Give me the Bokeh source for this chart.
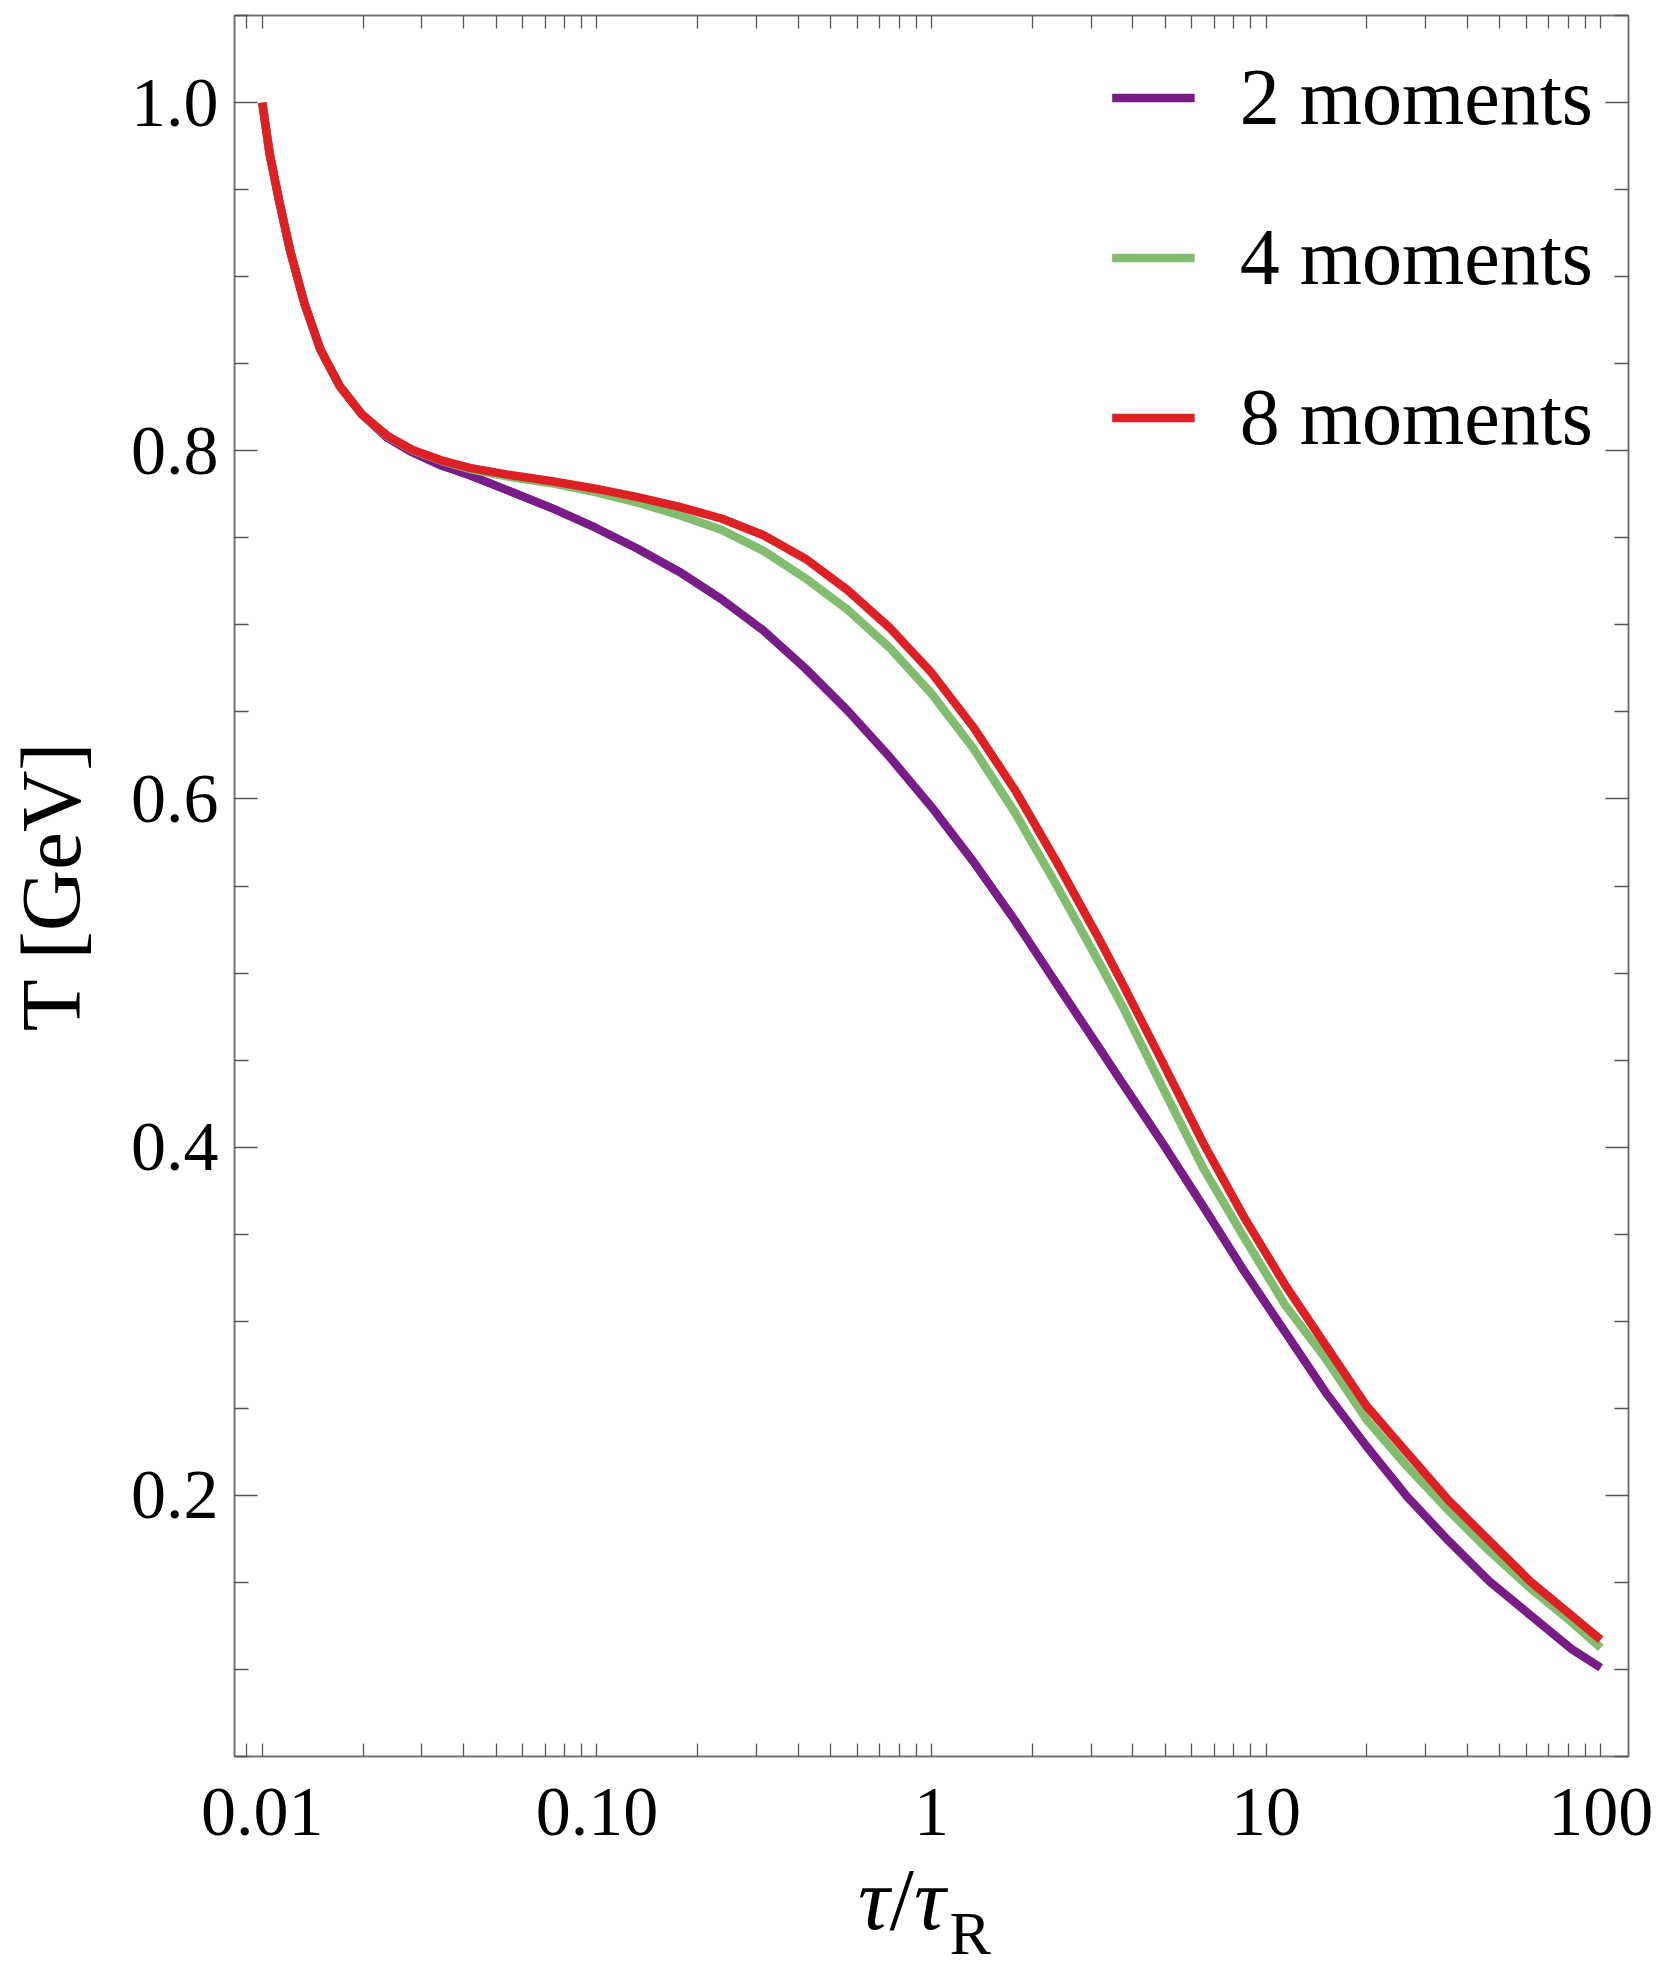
from bokeh.plotting import figure
from bokeh.layouts import column
from bokeh.models import Range1d, FixedTicker, LinearAxis, LogAxis, CustomJSTickFormatter, Div
from bokeh.embed import file_html
from bokeh.resources import INLINE

# ---------------- data ----------------
tau = [0.0100, 0.01052, 0.01122, 0.01211, 0.01337, 0.01493, 0.01702, 0.01982,
       0.02360, 0.02812, 0.03428, 0.04169, 0.05572, 0.07430, 0.09908, 0.1324,
       0.1766, 0.2355, 0.3148, 0.4198, 0.5610, 0.7482, 1.000, 1.334, 1.778,
       2.371, 3.170, 3.698, 4.898, 6.486, 8.590, 11.38, 15.07, 19.95, 26.42,
       35.08, 46.45, 61.52, 81.47, 100.0]

T_2_moments = [1.000, 0.9705, 0.9439, 0.915, 0.8845, 0.858, 0.8373, 0.821,
               0.8075, 0.7990, 0.7915, 0.7859, 0.7763, 0.7666, 0.7558, 0.7437,
               0.7304, 0.7148, 0.6967, 0.6750, 0.6508, 0.6243, 0.5954, 0.5640,
               0.530, 0.4935, 0.457, 0.4375, 0.4024, 0.366, 0.3289, 0.294,
               0.2591, 0.2282, 0.1991, 0.1739, 0.1507, 0.1313, 0.112, 0.101]

T_4_moments = [1.000, 0.9705, 0.9439, 0.915, 0.8845, 0.858, 0.8373, 0.821,
               0.8085, 0.8003, 0.7942, 0.7895, 0.7847, 0.7811, 0.7763, 0.7702,
               0.763, 0.7546, 0.7425, 0.7268, 0.7087, 0.687, 0.6605, 0.629,
               0.592, 0.550, 0.506, 0.482, 0.4345, 0.388, 0.3482, 0.3095,
               0.2785, 0.2436, 0.2165, 0.1914, 0.1681, 0.1468, 0.1275, 0.1125]

T_8_moments = [1.000, 0.9705, 0.9439, 0.915, 0.8845, 0.858, 0.8373, 0.821,
               0.8087, 0.8005, 0.7945, 0.7902, 0.7859, 0.7823, 0.7782, 0.7734,
               0.7678, 0.7611, 0.7515, 0.7380, 0.7200, 0.6985, 0.6725, 0.6412,
               0.605, 0.5635, 0.5195, 0.495, 0.449, 0.4024, 0.3598, 0.3211,
               0.2862, 0.2514, 0.2243, 0.1972, 0.1739, 0.1507, 0.1313, 0.117]

series_names = ["2 moments", "4 moments", "8 moments"]
series_colors = ["#781C87", "#82BC6E", "#DC2024"]

x_tick_values = [0.01, 0.1, 1, 10, 100]
x_tick_labels = ["0.01", "0.10", "1", "10", "100"]
y_tick_values = [0.2, 0.4, 0.6, 0.8, 1.0]
y_tick_labels = ["0.2", "0.4", "0.6", "0.8", "1.0"]

x_label_tau = "\u03c4"
x_label_sub = "R"
y_label = "T [GeV]"

# ---------------- styling ----------------
FONT = "Liberation Serif"
FRAME_COL = "#6e6e6e"
TICK_COL = "#555555"

x_minor = [m * 10.0 ** e for e in range(-3, 3) for m in range(2, 10)]
y_minor = [round(0.05 * k, 2) for k in range(1, 22) if k % 4 != 0]

p = figure(x_axis_type="log",
           x_range=Range1d(10 ** -2.083, 10 ** 2.083),
           y_range=Range1d(0.05, 1.05),
           frame_width=1394, frame_height=1741,
           min_border_left=234, min_border_right=33,
           min_border_top=15, min_border_bottom=110,
           output_backend="svg", toolbar_location=None,
           background_fill_color="white", border_fill_color="white",
           margin=(0, 0, 0, 0))

p.xgrid.visible = False
p.ygrid.visible = False
p.outline_line_color = FRAME_COL
p.outline_line_width = 1.5

ys = [T_2_moments, T_4_moments, T_8_moments]
for name, col, yv in zip(series_names, series_colors, ys):
    p.line(tau, yv, line_color=col, line_width=8.5, legend_label=name,
           line_join="round", line_cap="butt")

fmt_code = """
for (let i = 0; i < vals.length; i++) {
  if (Math.abs(tick - vals[i]) <= 1e-6 * Math.abs(vals[i])) return labs[i];
}
return "";
"""
x_fmt = CustomJSTickFormatter(args=dict(vals=x_tick_values, labs=x_tick_labels), code=fmt_code)
y_fmt = CustomJSTickFormatter(args=dict(vals=y_tick_values, labs=y_tick_labels), code=fmt_code)

def style_axis(ax, maj_in, min_in):
    ax.axis_line_color = FRAME_COL
    ax.axis_line_width = 1.5
    ax.major_tick_line_color = TICK_COL
    ax.minor_tick_line_color = TICK_COL
    ax.major_tick_line_width = 1.3
    ax.minor_tick_line_width = 1.3
    ax.major_tick_in = maj_in
    ax.major_tick_out = 0
    ax.minor_tick_in = min_in
    ax.minor_tick_out = 0
    ax.major_label_text_font = FONT
    ax.major_label_text_color = "black"
    ax.major_label_text_font_size = "70px"

# bottom axis
xb = p.xaxis[0]
xb.ticker = FixedTicker(ticks=x_tick_values, minor_ticks=x_minor)
xb.formatter = x_fmt
style_axis(xb, 13, 13)
xb.major_label_standoff = 32

# left axis
yl = p.yaxis[0]
yl.ticker = FixedTicker(ticks=y_tick_values, minor_ticks=y_minor)
yl.formatter = y_fmt
style_axis(yl, 23, 14)
yl.major_label_standoff = 16
yl.axis_label = y_label
yl.axis_label_text_font = FONT
yl.axis_label_text_font_style = "normal"
yl.axis_label_text_font_size = "85px"
yl.axis_label_text_color = "black"
yl.axis_label_standoff = 30

# top axis (ticks only)
xt = LogAxis(ticker=FixedTicker(ticks=x_tick_values, minor_ticks=x_minor),
             formatter=CustomJSTickFormatter(code="return '';"))
style_axis(xt, 13, 13)
xt.major_label_text_font_size = "0px"
xt.major_label_standoff = 0
p.add_layout(xt, "above")

# right axis (ticks only)
yr = LinearAxis(ticker=FixedTicker(ticks=y_tick_values, minor_ticks=y_minor),
                formatter=CustomJSTickFormatter(code="return '';"))
style_axis(yr, 23, 14)
yr.major_label_text_font_size = "0px"
yr.major_label_standoff = 0
p.add_layout(yr, "right")

# legend
lg = p.legend[0]
lg.location = "top_right"
lg.border_line_color = None
lg.background_fill_alpha = 0
lg.label_text_font = FONT
lg.label_text_font_size = "80px"
lg.label_text_color = "black"
lg.glyph_width = 83
lg.glyph_height = 95
lg.label_height = 95
lg.spacing = 65
lg.padding = 30
lg.margin = 35
lg.label_standoff = 45

# x axis title (tau / tau_R) as real text below the plot
x_title_html = (
    '<div style="font-family:\'Liberation Serif\'; font-size:88px; line-height:80px; '
    'color:black; white-space:nowrap; padding-left:858px; position:relative; top:-6px;">'
    '<i>' + x_label_tau + '</i>/<i>' + x_label_tau + '</i>'
    '<span style="font-size:62px; line-height:0; position:relative; top:25px; margin-left:4px;">'
    + x_label_sub + '</span></div>'
)
x_title = Div(text=x_title_html, width=1661, height=98, margin=(0, 0, 0, 0),
              styles={"overflow": "visible"})

layout = column(p, x_title, spacing=0)

open("out.html", "w").write(file_html(layout, INLINE))
